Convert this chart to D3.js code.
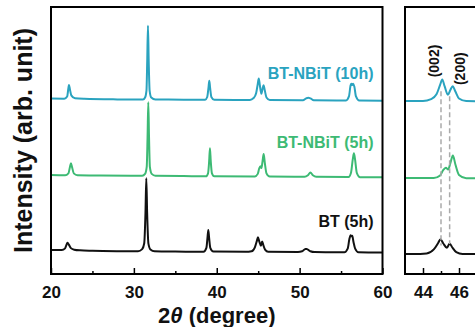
<!DOCTYPE html>
<html>
<head>
<meta charset="utf-8">
<script src="https://cdn.jsdelivr.net/npm/d3@7"></script>
<style>
  body { margin: 0; background: #fff; }
  svg { display: block; font-family: "Liberation Sans", Arial, sans-serif; }
</style>
</head>
<body>
<div id="chart"></div>
<script>
// XRD patterns, [2theta, intensity above own baseline] (arb. unit)
const bt5h = [
  [20, 0], [21.3, -0.05], [21.7, 0.6], [21.9, 2.2], [22.0, 2.7], [22.15, 2.0], [22.4, 0.7], [22.8, 0.1],
  [23.5, -0.15], [25, -0.3], [28, -0.45], [30.5, -0.5], [31.0, 0.3], [31.25, 2.5], [31.4, 14], [31.5, 26.9],
  [31.6, 14], [31.75, 2.5], [32.0, 0.2], [32.5, -0.5], [35, -0.6], [38.4, -0.65], [38.75, 0.8], [38.88, 4.5],
  [38.98, 7.5], [39.08, 4.5], [39.22, 0.8], [39.6, -0.6], [43.5, -0.7], [44.2, -0.5], [44.6, 1.0], [44.85, 3.5],
  [44.97, 4.8], [45.12, 3.3], [45.33, 1.6], [45.48, 3.2], [45.62, 1.8], [45.85, 0.0], [46.2, -0.7], [49.8, -0.75],
  [50.3, -0.5], [50.7, 0.4], [50.85, 0.4], [51.3, -0.5], [51.8, -0.8], [55.4, -0.85], [55.8, 0.5], [56.0, 4.0],
  [56.15, 5.5], [56.25, 5.1], [56.35, 5.3], [56.5, 3.0], [56.7, 0.5], [57.1, -0.85], [60, -0.95]
];
const nbit5h = [
  [20, 0], [21.7, -0.1], [22.1, 0.6], [22.3, 3.2], [22.41, 4.4], [22.52, 3.2], [22.75, 0.6], [23.2, -0.1],
  [26, -0.2], [31.0, -0.3], [31.35, 0.4], [31.55, 3], [31.65, 14], [31.74, 27.2], [31.83, 14], [31.93, 3],
  [32.15, 0.4], [32.6, -0.3], [36, -0.4], [38.7, -0.5], [38.95, 0.6], [39.08, 5], [39.18, 10.0], [39.28, 5],
  [39.42, 0.6], [39.7, -0.5], [44.6, -0.55], [44.95, 0.4], [45.12, 2.4], [45.27, 3.3], [45.4, 2.6], [45.52, 5.0],
  [45.66, 7.8], [45.8, 4.5], [46.0, 0.6], [46.4, -0.6], [50.6, -0.7], [51.0, -0.1], [51.3, 0.9], [51.6, -0.1],
  [52.0, -0.7], [55.9, -0.8], [56.2, 0.8], [56.42, 6], [56.55, 8.1], [56.68, 6], [56.9, 0.8], [57.3, -0.85], [60, -0.9]
];
const nbit10h = [
  [20, 0], [21.6, -0.05], [21.95, 0.8], [22.08, 3.5], [22.17, 5.1], [22.28, 3.5], [22.45, 1.2], [22.9, 0.1],
  [24, -0.1], [28, -0.3], [31.1, -0.35], [31.35, 0.4], [31.52, 3], [31.61, 14], [31.70, 27.3], [31.79, 14],
  [31.9, 3], [32.1, 0.4], [32.6, -0.35], [36, -0.4], [38.6, -0.45], [38.85, 0.6], [39.0, 4], [39.1, 6.7],
  [39.2, 4], [39.35, 0.6], [39.7, -0.45], [44.0, -0.5], [44.45, 0.2], [44.75, 2.0], [44.95, 5.5], [45.07, 7.5],
  [45.2, 5.0], [45.38, 1.8], [45.52, 3.6], [45.65, 5.0], [45.8, 3.0], [46.0, 0.4], [46.4, -0.55], [50.4, -0.6],
  [50.8, 0.1], [51.04, 0.3], [51.3, 0.1], [51.7, -0.6], [55.6, -0.7], [55.95, 0.8], [56.15, 5.0], [56.25, 5.6],
  [56.35, 5.1], [56.47, 5.6], [56.6, 4.5], [56.8, 0.8], [57.2, -0.75], [60, -0.8]
];

const seriesNames = ['BT (5h)', 'BT-NBiT (5h)', 'BT-NBiT (10h)'];
const seriesData = [bt5h, nbit5h, nbit10h];
const seriesOffsets = [9.0, 37.1, 65.7];
const seriesColors = ['#111111', '#3dba74', '#2aa3bf'];

const mainTicks = [20, 30, 40, 50, 60];
const mainMinorTicks = [25, 35, 45, 55];
const zoomTicks = [44, 46];
const zoomMinorTicks = [45, 47];
const peakPositions = [45.0, 45.48];
const peakLabels = ['(002)', '(200)'];

const W = 475, H = 327;
const plotTop = 7, plotBottom = 274;

const svg = d3.select('#chart').append('svg')
  .attr('width', W)
  .attr('height', H);

// scales
const xMain = d3.scaleLinear().domain([20, 60]).range([51, 382.5]);
const xZoom = d3.scaleLinear().domain([43, 47]).range([405, 477]);
const yMain = d3.scaleLinear().domain([0, 100]).range([plotBottom, plotTop]);
const yZoom = d3.scaleLinear().domain([0, 100]).range([276.3, 7.4]);

const defs = svg.append('defs');
defs.append('clipPath').attr('id', 'clip-main').append('rect')
  .attr('x', xMain(20)).attr('y', plotTop).attr('width', xMain(60) - xMain(20)).attr('height', plotBottom - plotTop);
defs.append('clipPath').attr('id', 'clip-zoom').append('rect')
  .attr('x', xZoom(43)).attr('y', plotTop).attr('width', 100).attr('height', plotBottom - plotTop);

function drawPanel(x, y, clipId, ticks, minorTicks) {
  const g = svg.append('g').attr('clip-path', `url(#${clipId})`);

  seriesData.forEach((data, i) => {
    const line = d3.line()
      .x(d => x(d[0]))
      .y(d => y(d[1] + seriesOffsets[i]))
      .curve(d3.curveMonotoneX);
    g.append('path')
      .datum(data)
      .attr('d', line)
      .style('fill', 'none')
      .style('stroke', seriesColors[i])
      .style('stroke-width', 2)
      .style('stroke-linejoin', 'round');
  });

  // x axis, ticks pointing inward
  const axis = svg.append('g')
    .attr('class', 'axis')
    .attr('transform', `translate(0, ${plotBottom})`)
    .call(d3.axisBottom(x).tickValues(ticks).tickSizeInner(-6).tickSizeOuter(0).tickPadding(12).tickFormat(d3.format('d')));
  axis.select('.domain').remove();
  axis.selectAll('line').attr('stroke', '#000').attr('stroke-width', 1.5);
  axis.selectAll('text')
    .attr('fill', '#111')
    .style('font-size', '17px')
    .style('font-weight', 'bold');

  const minor = svg.append('g')
    .attr('transform', `translate(0, ${plotBottom})`)
    .call(d3.axisBottom(x).tickValues(minorTicks).tickSizeInner(-3).tickSizeOuter(0).tickFormat(''));
  minor.select('.domain').remove();
  minor.selectAll('line').attr('stroke', '#000').attr('stroke-width', 1.5);
}

drawPanel(xMain, yMain, 'clip-main', mainTicks, mainMinorTicks);
drawPanel(xZoom, yZoom, 'clip-zoom', zoomTicks, zoomMinorTicks);

// dashed guides in zoomed panel
const guides = svg.append('g');
peakPositions.forEach((p, i) => {
  guides.append('line')
    .attr('x1', xZoom(p)).attr('x2', xZoom(p))
    .attr('y1', yZoom(68.8 - i * 1.8)).attr('y2', yZoom(11.5 + i * 0.5))
    .attr('stroke', '#aaaaaa')
    .attr('stroke-width', 1.5)
    .attr('stroke-dasharray', '5,3');
});

// peak labels
const labelPos = [[438.5, 61], [465, 68.7]];
peakLabels.forEach((t, i) => {
  svg.append('text')
    .attr('transform', `translate(${labelPos[i][0]}, ${labelPos[i][1]}) rotate(-90)`)
    .attr('text-anchor', 'middle')
    .attr('fill', '#111')
    .style('font-size', '14px')
    .style('font-weight', 'bold')
    .text(t);
});

// frames
svg.append('rect')
  .attr('x', xMain(20)).attr('y', plotTop)
  .attr('width', xMain(60) - xMain(20)).attr('height', plotBottom - plotTop)
  .attr('fill', 'none').attr('stroke', '#000').attr('stroke-width', 2);
svg.append('rect')
  .attr('x', xZoom(43)).attr('y', plotTop)
  .attr('width', 120).attr('height', plotBottom - plotTop)
  .attr('fill', 'none').attr('stroke', '#000').attr('stroke-width', 2);

// series labels
const labelBaselines = [227, 147.5, 78.5];
seriesNames.forEach((name, i) => {
  svg.append('text')
    .attr('x', 373.5)
    .attr('y', labelBaselines[i])
    .attr('text-anchor', 'end')
    .attr('fill', seriesColors[i])
    .style('font-size', '16px')
    .style('font-weight', 'bold')
    .text(name);
});

// axis titles
svg.append('text')
  .attr('transform', 'translate(31.5, 140.5) rotate(-90)')
  .attr('text-anchor', 'middle')
  .attr('fill', '#111')
  .style('font-size', '25px')
  .style('font-weight', 'bold')
  .text('Intensity (arb. unit)');

const xTitle = svg.append('text')
  .attr('x', (xMain(20) + xMain(60)) / 2)
  .attr('y', 323)
  .attr('text-anchor', 'middle')
  .attr('fill', '#111')
  .style('font-size', '22px')
  .style('font-weight', 'bold');
xTitle.append('tspan').text('2');
xTitle.append('tspan').style('font-style', 'italic').text('θ');
xTitle.append('tspan').text(' (degree)');
</script>
</body>
</html>
